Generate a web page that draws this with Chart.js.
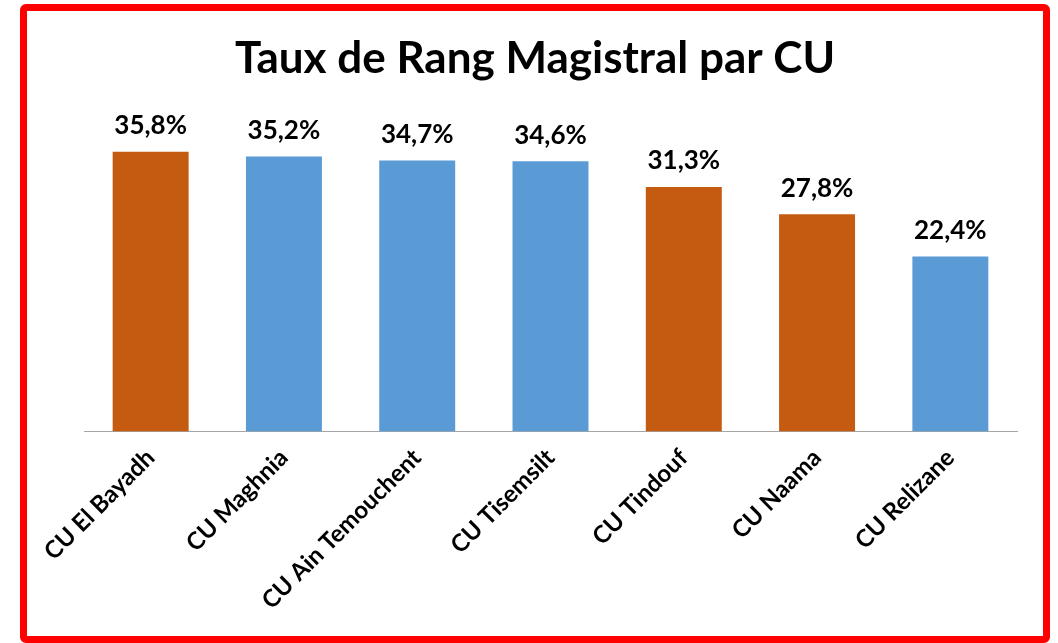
<!DOCTYPE html>
<html>
<head>
<meta charset="utf-8">
<script src="https://cdn.jsdelivr.net/npm/chart.js@4/dist/chart.umd.min.js"></script>
<style>
  html, body { margin: 0; padding: 0; background: #fff; }
  #frame {
    position: absolute; left: 20px; top: 4px;
    width: 1030px; height: 639px;
    box-sizing: border-box;
    border: 7px solid #ff0000; border-radius: 6px;
    background: #fff;
  }
  #wrap { position: absolute; left: 0; top: 0; width: 1016px; height: 625px; }
</style>
</head>
<body>
<div id="frame"><div id="wrap"><canvas id="graph_cu"></canvas></div></div>
<script>
const chartTitle = 'Taux de Rang Magistral par CU'
const labelsCU = [
  'CU El Bayadh',
  'CU Maghnia',
  'CU Ain Temouchent',
  'CU Tisemsilt',
  'CU Tindouf',
  'CU Naama',
  'CU Relizane'
]
const tauxRang = [35.8, 35.2, 34.7, 34.6, 31.3, 27.8, 22.4]
const barColors = ['#C55A11', '#5B9BD5', '#5B9BD5', '#5B9BD5', '#C55A11', '#C55A11', '#5B9BD5']

// valeur au-dessus de chaque barre, format francais
const valueLabels = {
  id: 'valueLabels',
  afterDatasetsDraw(chart) {
    const ctx = chart.ctx
    const meta = chart.getDatasetMeta(0)
    ctx.save()
    ctx.font = 'bold 26px Lato'
    ctx.fillStyle = '#000'
    ctx.textAlign = 'center'
    ctx.textBaseline = 'bottom'
    meta.data.forEach(function(bar, i) {
      var txt = tauxRang[i].toFixed(1).replace('.', ',') + '%'
      ctx.fillText(txt, bar.x, bar.y - 13)
    })
    ctx.restore()
  }
}

// titre centre sur toute la largeur du cadre (pas seulement la zone du graphe)
const frameTitle = {
  id: 'frameTitle',
  afterDraw(chart) {
    const ctx = chart.ctx
    ctx.save()
    ctx.font = 'bold 44px Lato'
    ctx.fillStyle = '#000'
    ctx.textAlign = 'center'
    ctx.textBaseline = 'middle'
    ctx.fillText(chartTitle, chart.width / 2, 48)
    ctx.restore()
  }
}

new Chart(document.getElementById('graph_cu'), {
  type: 'bar',
  data: {
    labels: labelsCU,
    datasets: [{
      data: tauxRang,
      backgroundColor: barColors,
      borderWidth: 0,
      categoryPercentage: 1,
      barPercentage: 0.57
    }]
  },
  options: {
    responsive: true,
    maintainAspectRatio: false,
    animation: false,
    layout: { padding: { left: 57, right: 26, top: 108, bottom: 17 } },
    plugins: {
      legend: { display: false },
      tooltip: { enabled: false },
      title: { display: false }
    },
    scales: {
      y: {
        display: false,
        min: 0,
        max: 40
      },
      x: {
        grid: { display: false },
        border: { display: true, color: '#a6a6a6', width: 1 },
        ticks: {
          color: '#000',
          font: { family: 'Lato', size: 24, weight: 'bold' },
          minRotation: 45,
          maxRotation: 45,
          padding: 4
        }
      }
    }
  },
  plugins: [valueLabels, frameTitle]
});
</script>
</body>
</html>
